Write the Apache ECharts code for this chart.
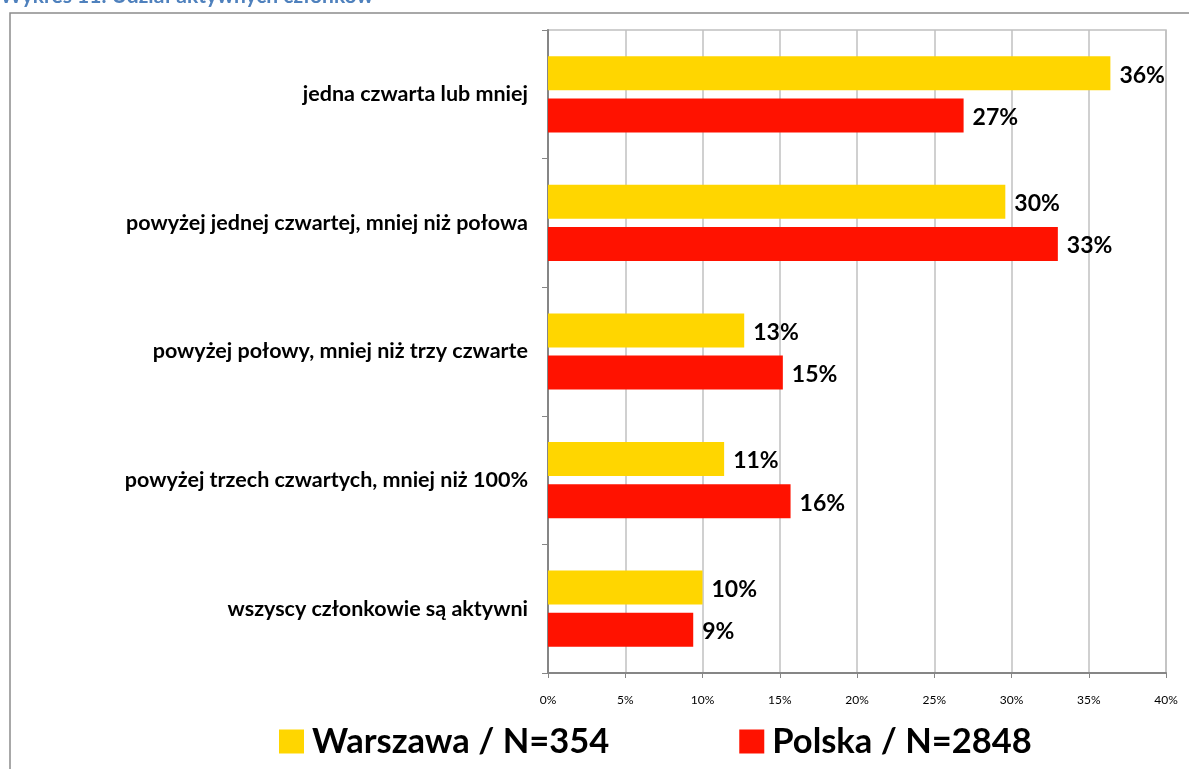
<!DOCTYPE html>
<html>
<head>
<meta charset="utf-8">
<script src="https://cdn.jsdelivr.net/npm/echarts@6/dist/echarts.min.js"></script>
<style>
    html, body { margin: 0; padding: 0; background: #fff; }
    #chart { width: 1189px; height: 769px; }
</style>
</head>
<body>
<div id="chart"></div>
<script>
// kategorie (od góry)
var categories = [
    'jedna czwarta lub mniej',
    'powyżej jednej czwartej, mniej niż połowa',
    'powyżej połowy, mniej niż trzy czwarte',
    'powyżej trzech czwartych, mniej niż 100%',
    'wszyscy członkowie są aktywni'
];
var seriesNames = ['Warszawa / N=354', 'Polska / N=2848'];
var warszawa = [36.4, 29.6, 12.7, 11.4, 10.0];
var polska = [26.9, 33.0, 15.2, 15.7, 9.4];
var xTicks = [0, 5, 10, 15, 20, 25, 30, 35, 40];

var font = 'Lato, "Open Sans", sans-serif';

var chartDom = document.getElementById('chart');
var myChart = echarts.init(chartDom);

function barLabel() {
    return {
        show: true,
        position: 'right',
        distance: 9,
        offset: [0, 2],
        color: '#000',
        fontFamily: font,
        fontWeight: 'bold',
        fontSize: 23,
        formatter: function (p) { return Math.round(p.value) + '%'; }
    };
}

var option = {
    animation: false,
    backgroundColor: '#fff',
    graphic: [
        // ramka
        {
            type: 'rect',
            shape: { x: 10, y: 13, width: 1200, height: 800 },
            style: { fill: 'none', stroke: '#8c8c8c', lineWidth: 1.5 },
            silent: true
        },
        // tytuł (ucięty u góry)
        {
            type: 'text',
            left: 0,
            top: -14,
            style: {
                text: 'Wykres 11. Udział aktywnych członków',
                fill: '#4f81bd',
                font: 'bold 21px ' + font
            }
        }
    ],
    grid: {
        left: 548,
        right: 23,
        top: 30,
        bottom: 96,
        show: true,
        borderColor: '#c0c0c0',
        borderWidth: 1.5
    },
    legend: {
        left: 274,
        top: 719,
        itemWidth: 25,
        itemHeight: 24,
        itemGap: 130,
        icon: 'rect',
        textStyle: {
            fontFamily: font,
            fontWeight: 'bold',
            fontSize: 34.5,
            color: '#000',
            padding: [0, 0, 0, 3]
        },
        data: seriesNames
    },
    xAxis: {
        type: 'value',
        min: xTicks[0],
        max: xTicks[xTicks.length - 1],
        interval: 5,
        axisLine: { show: true, lineStyle: { color: '#868686', width: 2 } },
        axisTick: { show: true, length: 5, lineStyle: { color: '#868686' } },
        splitLine: { show: true, lineStyle: { color: '#c0c0c0', width: 1.5 } },
        axisLabel: {
            margin: 21,
            color: '#000',
            fontFamily: font,
            fontSize: 12,
            formatter: '{value}%'
        }
    },
    yAxis: {
        type: 'category',
        inverse: true,
        data: categories,
        axisLine: { show: true, lineStyle: { color: '#868686', width: 2 } },
        axisTick: { show: true, length: 6, lineStyle: { color: '#868686' } },
        axisLabel: {
            margin: 20,
            color: '#000',
            fontFamily: font,
            fontWeight: 'bold',
            fontSize: 21.5
        }
    },
    series: [
        {
            name: seriesNames[0],
            type: 'bar',
            data: warszawa,
            barWidth: 34,
            barGap: '24%',
            itemStyle: { color: '#ffd600' },
            label: barLabel()
        },
        {
            name: seriesNames[1],
            type: 'bar',
            data: polska,
            barWidth: 34,
            itemStyle: { color: '#ff1200' },
            label: barLabel()
        }
    ]
};
option && myChart.setOption(option);
</script>
</body>
</html>
